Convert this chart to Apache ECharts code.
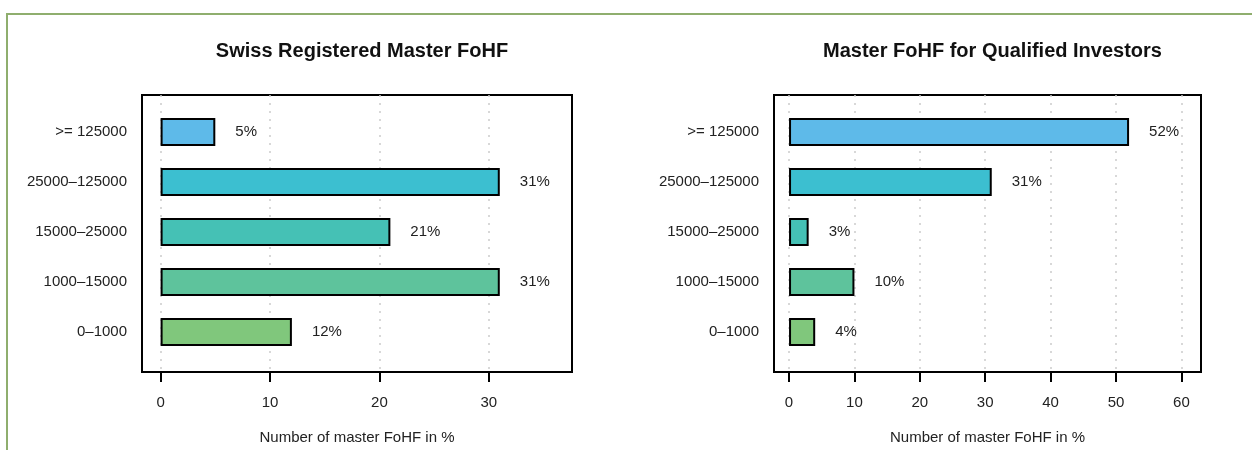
<!DOCTYPE html>
<html>
<head>
<meta charset="utf-8">
<script src="https://cdn.jsdelivr.net/npm/echarts@6/dist/echarts.min.js"></script>
<style>
html,body{margin:0;padding:0;background:#fff;}
#c{width:1252px;height:450px;}
</style>
</head>
<body>
<div id="c"></div>
<script>
// ---- data ----
const categories = ['0\u20131000', '1000\u201315000', '15000\u201325000', '25000\u2013125000', '>= 125000'];
const swissRegistered = [12, 31, 21, 31, 5];
const qualifiedInvestors = [4, 10, 3, 31, 52];
const leftTicks = [0, 10, 20, 30];
const rightTicks = [0, 10, 20, 30, 40, 50, 60];
const titles = ['Swiss Registered Master FoHF', 'Master FoHF for Qualified Investors'];
const axisName = 'Number of master FoHF in %';
const barColors = ['#80c77c', '#5ec39c', '#45c1b5', '#3cbfd0', '#5ebae9'];

const FONT = '"Liberation Sans", Arial, sans-serif';
const chart = echarts.init(document.getElementById('c'), null, {renderer: 'canvas'});

function panel(idx, left, width, xmin, xmax, ticks, values) {
  const boxGrid = {left: left, top: 95, width: width, height: 277, show: true,
    borderColor: '#000', borderWidth: 2, backgroundColor: 'transparent',
    containLabel: false, outerBoundsMode: 'none'};
  const dataGrid = {left: left, top: 107, width: width, height: 250,
    containLabel: false, outerBoundsMode: 'none'};
  const xBox = {
    type: 'value', gridIndex: idx * 2, min: xmin, max: xmax,
    axisLine: {show: false},
    axisTick: {show: true, inside: false, length: 10, customValues: ticks,
      lineStyle: {color: '#000', width: 2}},
    axisLabel: {customValues: ticks, margin: 23, color: '#222', fontSize: 15, fontFamily: FONT},
    splitLine: {show: true, lineStyle: {color: '#cccccc', type: [2, 6], width: 1.5}},
    name: axisName, nameLocation: 'middle', nameGap: 58,
    nameTextStyle: {color: '#222', fontSize: 15, fontFamily: FONT}
  };
  const yBox = {type: 'value', gridIndex: idx * 2, show: false, min: 0, max: 1};
  const xData = {type: 'value', gridIndex: idx * 2 + 1, min: xmin, max: xmax, show: false};
  const yData = {
    type: 'category', gridIndex: idx * 2 + 1, data: categories,
    axisLine: {show: false}, axisTick: {show: false},
    axisLabel: {margin: 15, color: '#222', fontSize: 15, fontFamily: FONT},
    splitLine: {show: false}
  };
  const series = {
    type: 'bar', xAxisIndex: idx * 2 + 1, yAxisIndex: idx * 2 + 1,
    barWidth: 28,
    data: values.map((v, i) => ({value: v, itemStyle: {color: barColors[i]}})),
    itemStyle: {borderColor: '#000', borderWidth: 2},
    label: {show: true, position: 'right', distance: 20, formatter: '{c}%',
      color: '#222', fontSize: 15, fontFamily: FONT},
    silent: true, animation: false
  };
  const title = {text: titles[idx], left: left + width / 2, top: 36, textAlign: 'center',
    textStyle: {fontSize: 20, fontWeight: 'bold', color: '#111', fontFamily: FONT}};
  return {grids: [boxGrid, dataGrid], xAxes: [xBox, xData], yAxes: [yBox, yData], series: series, title: title};
}

const p1 = panel(0, 142, 430, -1.7, 37.6, leftTicks, swissRegistered);
const p2 = panel(1, 774, 427, -2.3, 63.0, rightTicks, qualifiedInvestors);

chart.setOption({
  animation: false,
  backgroundColor: '#fff',
  title: [p1.title, p2.title],
  grid: [...p1.grids, ...p2.grids],
  xAxis: [...p1.xAxes, ...p2.xAxes],
  yAxis: [...p1.yAxes, ...p2.yAxes],
  series: [p1.series, p2.series],
  graphic: [
    {type: 'polyline', shape: {points: [[7, 460], [7, 14], [1260, 14]]},
     style: {stroke: '#8fae6e', lineWidth: 2, fill: null}, silent: true}
  ]
});
</script>
</body>
</html>
